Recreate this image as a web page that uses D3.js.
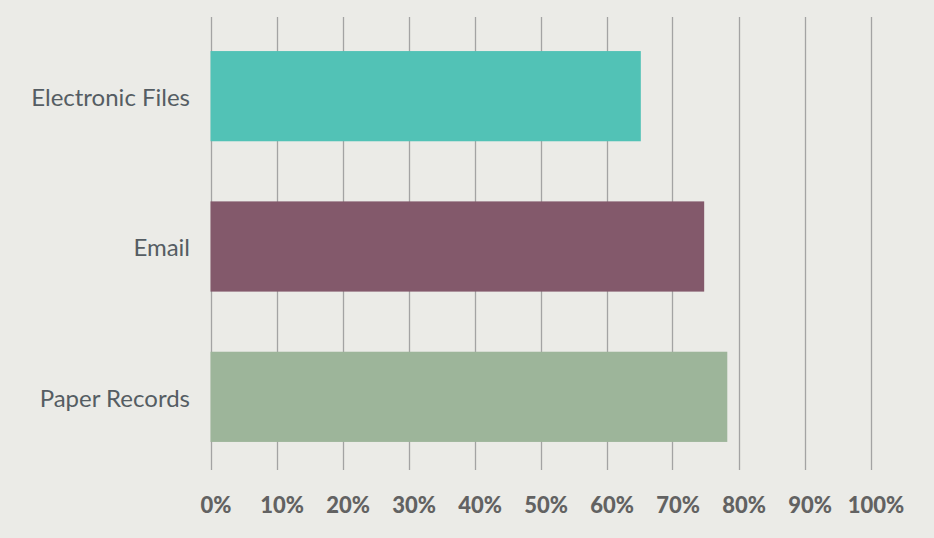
<!DOCTYPE html>
<html><head><meta charset="utf-8">
<script src="https://cdn.jsdelivr.net/npm/d3@7"></script>
<style>
html,body{margin:0;padding:0;background:#ebebe7;}
svg{display:block;}
</style></head>
<body>
<svg id="c" width="934" height="538"></svg>
<script>
const categories = ["Electronic Files", "Email", "Paper Records"];
const values = [65.2, 74.8, 78.3];
const colors = ["#52c2b6", "#83596b", "#9db59a"];
const tickValues = [0, 10, 20, 30, 40, 50, 60, 70, 80, 90, 100];

const svg = d3.select("#c");
svg.append("rect").attr("width", 934).attr("height", 538).attr("fill", "#ebebe7");

const x = d3.scaleLinear().domain([0, 100]).range([210.5, 870.5]);
const y = d3.scaleBand().domain(categories).range([21, 472]).paddingInner(0.4).paddingOuter(0.2);

// gridlines
svg.append("g").selectAll("line").data(tickValues).join("line")
  .attr("x1", d => Math.round(x(d)) + 0.5).attr("x2", d => Math.round(x(d)) + 0.5)
  .attr("y1", 17).attr("y2", 470)
  .attr("stroke", "#a3a3a3").attr("stroke-width", 1.3);

// bars
svg.append("g").selectAll("rect").data(categories).join("rect")
  .attr("x", x(0))
  .attr("y", d => y(d))
  .attr("width", (d, i) => x(values[i]) - x(0))
  .attr("height", y.bandwidth())
  .attr("fill", (d, i) => colors[i]);

// x axis labels
const xAxis = d3.axisBottom(x).tickValues(tickValues).tickFormat(d => d + "%").tickSize(0);
const gx = svg.append("g").attr("transform", "translate(5,494)").call(xAxis);
gx.select(".domain").remove();
gx.selectAll("text")
  .attr("font-family", "Lato, 'Open Sans', sans-serif")
  .attr("font-weight", 900)
  .attr("font-size", 22)
  .attr("fill", "#626262");

// y labels
const yAxis = d3.axisLeft(y).tickSize(0).tickPadding(0);
const gy = svg.append("g").attr("transform", "translate(190,2)").call(yAxis);
gy.select(".domain").remove();
gy.selectAll("text")
  .attr("font-family", "Lato, 'Open Sans', sans-serif")
  .attr("font-size", 24)
  .attr("fill", "#555d63");
</script>
</body></html>
